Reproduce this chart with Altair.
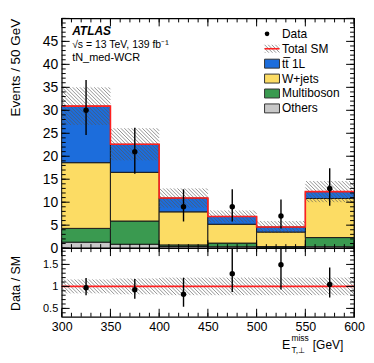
import altair as alt
import pandas as pd
import numpy as np

# ---------------- data ----------------
edges = [300, 350, 400, 450, 500, 550, 600]
components = ["Others", "Multiboson", "W+jets", "ttbar 1L"]
comp_colors = ["#c8c8c8", "#3a9a50", "#fcdc64", "#1c6ddc"]
others = [1.3, 0.85, 0.35, 0.3, 0.1, 0.3]
multiboson = [3.0, 5.05, 0.35, 0.8, 0.25, 2.0]
wjets = [14.3, 10.6, 7.2, 4.1, 3.15, 8.5]
ttbar = [12.3, 6.1, 3.0, 1.7, 1.1, 1.5]
sm_unc = [4.1, 3.5, 2.1, 1.3, 1.3, 2.3]

data_val = [30, 21, 9, 9, 7, 13]
data_lo = [24.6, 16.2, 5.8, 5.8, 4.3, 9.2]
data_hi = [36.6, 26.2, 12.8, 12.8, 10.6, 17.4]

ratio_val = [0.97, 0.926, 0.82, 1.29, 1.49, 1.045]
ratio_lo = [0.80, 0.72, 0.535, 0.87, 0.93, 0.745]
ratio_hi = [1.19, 1.17, 1.195, 1.95, 2.1, 1.43]
ratio_band = [0.158, 0.18, 0.2, 0.2, 0.2, 0.2]

x_labels = [300, 350, 400, 450, 500, 550, 600]
y_labels = [0, 5, 10, 15, 20, 25, 30, 35, 40, 45]
r_labels = [0.5, 1, 1.5]

legend_labels = ["Data", "Total SM", "tt\u0305 1L", "W+jets", "Multiboson", "Others"]

# ---------------- layout / style ----------------
FONT = "Liberation Sans, Arial, sans-serif"
W, H1, H2 = 294, 231, 69
XDOM = [300, 600]
YDOM = [0, 50]
RDOM = [0.31, 1.87]
MAJ, MIN = 8, 4


def xs():
    return alt.Scale(domain=XDOM, nice=False, zero=False)


def ys():
    return alt.Scale(domain=YDOM, nice=False, zero=False)


def rs():
    return alt.Scale(domain=RDOM, nice=False, zero=False)


Y_TOP_AX = alt.Axis(
    values=y_labels, ticks=False, domain=False, grid=False, labelPadding=4,
    labelFontSize=14, labelFont=FONT, labelColor="black",
    title="Events / 50 GeV", titleFont=FONT, titleFontSize=13.5, titleFontWeight="normal",
    titleColor="black", titleAngle=270, titleAlign="right", titleBaseline="middle",
    titleX=-46, titleY=0)

X_BOT_AX = alt.Axis(
    values=x_labels, ticks=False, domain=False, grid=False, labelFlush=False,
    labelPadding=4, labelFontSize=12.5, labelFont=FONT, labelColor="black", title=None)

R_AX = alt.Axis(
    values=r_labels, format="~g", ticks=False, domain=False, grid=False, labelPadding=4,
    labelFontSize=11, labelFont=FONT, labelColor="black",
    title="Data / SM", titleFont=FONT, titleFontSize=12.5, titleFontWeight="normal",
    titleColor="black", titleAngle=270, titleAlign="center", titleBaseline="middle",
    titleX=-46, titleY=35)

lo_e = edges[:-1]
hi_e = edges[1:]
centers = [(a + b) / 2 for a, b in zip(lo_e, hi_e)]

rows = []
base = np.zeros(6)
for name, vals in zip(components, [others, multiboson, wjets, ttbar]):
    for i in range(6):
        rows.append(dict(lo=lo_e[i], hi=hi_e[i], y0=base[i], y1=base[i] + vals[i], comp=name))
    base = base + np.array(vals)
total = base
stack_df = pd.DataFrame(rows)


def hatch(lo_x, hi_x, lo_y, hi_y, ymin, ky, step=3.6):
    kx = W / (XDOM[1] - XDOM[0])
    out = []
    for a_, b_, l_, h_ in zip(lo_x, hi_x, lo_y, hi_y):
        a = (a_ - XDOM[0]) * kx
        b = (b_ - XDOM[0]) * kx
        l = (l_ - ymin) * ky
        h = (h_ - ymin) * ky
        k0 = int(np.ceil((a + l) / step))
        k1 = int(np.floor((b + h) / step))
        for k in range(k0, k1 + 1):
            c = k * step
            s = max(a, c - h)
            e = min(b, c - l)
            if e - s > 0.3:
                out.append(dict(x=XDOM[0] + s / kx, y=ymin + (c - s) / ky,
                                x2=XDOM[0] + e / kx, y2=ymin + (c - e) / ky))
    return pd.DataFrame(out)


ky1 = H1 / (YDOM[1] - YDOM[0])
ky2 = H2 / (RDOM[1] - RDOM[0])
hatch_top = hatch(lo_e, hi_e, total - np.array(sm_unc), total + np.array(sm_unc), YDOM[0], ky1)
hatch_bot = hatch(lo_e, hi_e, 1 - np.array(ratio_band), 1 + np.array(ratio_band), RDOM[0], ky2)

step_df = pd.DataFrame({"x": edges, "y": list(total) + [total[-1]]})
data_df = pd.DataFrame({"x": centers, "y": data_val, "lo": data_lo, "hi": data_hi})
ratio_df = pd.DataFrame({"x": centers, "y": ratio_val, "lo": ratio_lo, "hi": ratio_hi})

HATCH_COLOR = "#555555"


def tick_layers(yvals_major, yvals_minor, yscale_fn, yax, xax, H):
    layers = []
    xmaj = pd.DataFrame({"v": x_labels})
    xmin = pd.DataFrame({"v": list(range(300, 601, 10))})
    for df, ln in [(pd.DataFrame({"v": yvals_major}), MAJ), (pd.DataFrame({"v": yvals_minor}), MIN)]:
        layers.append(alt.Chart(df).mark_rule(color="black", strokeWidth=1).encode(
            y=alt.Y("v:Q", scale=yscale_fn(), axis=yax), x=alt.value(0), x2=alt.value(ln)))
        layers.append(alt.Chart(df).mark_rule(color="black", strokeWidth=1).encode(
            y=alt.Y("v:Q", scale=yscale_fn(), axis=yax), x=alt.value(W), x2=alt.value(W - ln)))
    for df, ln in [(xmaj, MAJ), (xmin, MIN)]:
        layers.append(alt.Chart(df).mark_rule(color="black", strokeWidth=1).encode(
            x=alt.X("v:Q", scale=xs(), axis=xax), y=alt.value(H), y2=alt.value(H - ln)))
        layers.append(alt.Chart(df).mark_rule(color="black", strokeWidth=1).encode(
            x=alt.X("v:Q", scale=xs(), axis=xax), y=alt.value(0), y2=alt.value(ln)))
    return layers


def txt(s, x, y, size, align="left", **kw):
    return alt.Chart(pd.DataFrame({"t": [s]})).mark_text(
        text=s, font=FONT, fontSize=size, align=align, baseline="middle", color="black", **kw
    ).encode(x=alt.value(x), y=alt.value(y))


def vrule(x1, y1, x2, y2, color, width=1.0, opacity=1.0):
    return alt.Chart(pd.DataFrame({"t": [0]})).mark_rule(
        color=color, strokeWidth=width, opacity=opacity
    ).encode(x=alt.value(x1), y=alt.value(y1), x2=alt.value(x2), y2=alt.value(y2))


# ---------------- top panel ----------------
stack = alt.Chart(stack_df).mark_rect(stroke="#1a1a1a", strokeWidth=1).encode(
    x=alt.X("lo:Q", scale=xs(), axis=None),
    x2="hi:Q",
    y=alt.Y("y0:Q", scale=ys(), axis=Y_TOP_AX),
    y2="y1:Q",
    color=alt.Color("comp:N", scale=alt.Scale(domain=components, range=comp_colors), legend=None),
)

hatch_top_layer = alt.Chart(hatch_top).mark_rule(color=HATCH_COLOR, strokeWidth=0.8, opacity=0.8).encode(
    x=alt.X("x:Q", scale=xs(), axis=None), x2="x2:Q",
    y=alt.Y("y:Q", scale=ys(), axis=Y_TOP_AX), y2="y2:Q")

red_step = alt.Chart(step_df).mark_line(interpolate="step-after", color="#ff2020", strokeWidth=1.6).encode(
    x=alt.X("x:Q", scale=xs(), axis=None), y=alt.Y("y:Q", scale=ys(), axis=Y_TOP_AX))

err_top = alt.Chart(data_df).mark_rule(color="black", strokeWidth=1.4).encode(
    x=alt.X("x:Q", scale=xs(), axis=None), y=alt.Y("lo:Q", scale=ys(), axis=Y_TOP_AX), y2="hi:Q")
pts_top = alt.Chart(data_df).mark_circle(color="black", size=30, opacity=1).encode(
    x=alt.X("x:Q", scale=xs(), axis=None), y=alt.Y("y:Q", scale=ys(), axis=Y_TOP_AX))

ann = [
    txt("ATLAS", 10.5, 12.5, 12, fontStyle="italic", fontWeight="bold"),
    txt("\u221as = 13 TeV, 139 fb\u207b\u00b9", 10.5, 27, 10.5),
    txt("tN_med-WCR", 10.5, 39.5, 11),
]

leg_y = [15.5, 30.5, 45.5, 60.5, 75.5, 90.5]
leg = []
for lab, yc in zip(legend_labels, leg_y):
    leg.append(txt(lab, 221.5, yc, 12))
leg.append(alt.Chart(pd.DataFrame({"t": [0]})).mark_circle(color="black", size=22, opacity=1).encode(
    x=alt.value(206.5), y=alt.value(leg_y[0])))
bx0, bx1 = 204, 219
ty = leg_y[1]
for k in range(-3, 6):
    c = bx0 + k * 3.6
    s = max(bx0, c)
    e = min(bx1, c + 8)
    if e - s > 0.5:
        leg.append(vrule(s, ty - 4 + (s - c), e, ty - 4 + (e - c), HATCH_COLOR, 0.8, 0.8))
leg.append(vrule(bx0, ty, bx1, ty, "#ff2020", 1.6))
for yc, col in zip(leg_y[2:], comp_colors[::-1]):
    leg.append(alt.Chart(pd.DataFrame({"t": [0]})).mark_rect(fill=col, stroke="#333333", strokeWidth=1).encode(
        x=alt.value(bx0), x2=alt.value(bx1), y=alt.value(yc - 4.5), y2=alt.value(yc + 4.5)))

top = alt.layer(
    stack, hatch_top_layer, red_step, err_top, pts_top,
    *tick_layers(y_labels + [50], list(range(0, 51)), ys, Y_TOP_AX, None, H1),
    *ann, *leg
).properties(width=W, height=H1)

# ---------------- ratio panel ----------------
band = alt.Chart(hatch_bot).mark_rule(color=HATCH_COLOR, strokeWidth=0.8, opacity=0.8).encode(
    x=alt.X("x:Q", scale=xs(), axis=X_BOT_AX), x2="x2:Q",
    y=alt.Y("y:Q", scale=rs(), axis=R_AX), y2="y2:Q")

one_line = alt.Chart(pd.DataFrame({"v": [1.0]})).mark_rule(color="#ff2020", strokeWidth=1.6).encode(
    y=alt.Y("v:Q", scale=rs(), axis=R_AX))

err_bot = alt.Chart(ratio_df).mark_rule(color="black", strokeWidth=1.4, clip=True).encode(
    x=alt.X("x:Q", scale=xs(), axis=X_BOT_AX), y=alt.Y("lo:Q", scale=rs(), axis=R_AX), y2="hi:Q")
pts_bot = alt.Chart(ratio_df).mark_circle(color="black", size=30, opacity=1).encode(
    x=alt.X("x:Q", scale=xs(), axis=X_BOT_AX), y=alt.Y("y:Q", scale=rs(), axis=R_AX))

xt = [
    txt("E", 221.5, 97, 12.5),
    txt("miss", 231, 90.5, 8.5),
    txt("T,\u22a5", 231, 102, 8.5),
    txt("[GeV]", 252.5, 97, 12),
]

bottom = alt.layer(
    band, one_line, err_bot, pts_bot,
    *tick_layers([0.5, 1.0, 1.5], [round(v, 1) for v in np.arange(0.4, 1.81, 0.1)], rs, R_AX, X_BOT_AX, H2),
    *xt
).properties(width=W, height=H2)

chart = alt.vconcat(top, bottom, spacing=0, bounds="flush").properties(
    padding={"left": 0, "top": 7.5, "right": 0, "bottom": 0}
).configure_view(stroke="black", strokeWidth=1.2).configure_axis(grid=False)

chart.save("out.html", embed_options={"renderer": "svg", "actions": False})
